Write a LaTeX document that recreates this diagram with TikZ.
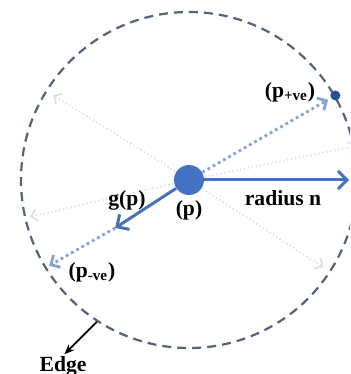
\documentclass[tikz,border=0pt]{standalone}
\usepackage{fontspec}
\setmainfont{Liberation Serif}
\usepackage{tikz}
\usetikzlibrary{arrows.meta,positioning,calc}

\definecolor{ptblue}{RGB}{68,114,196}
\definecolor{lineblue}{RGB}{70,114,182}
\definecolor{dotblue}{RGB}{132,163,210}
\definecolor{faintgray}{RGB}{212,218,229}
\definecolor{edgegray}{RGB}{85,98,120}
\definecolor{tipblue}{RGB}{40,80,150}

\begin{document}
\begin{tikzpicture}[x=0.5pt,y=0.5pt,
    lbl/.style={font=\bfseries\fontsize{10.8}{12}\selectfont,inner sep=0pt},
    solidarrow/.style={lineblue,line width=1.5pt,-{Straight Barb[length=4.5pt,width=9pt]}},
    dotline/.style={dotblue,line width=1.4pt,dash pattern=on 1.4pt off 1.6pt},
    dotarrow/.style={dotline,-{Straight Barb[length=3.5pt,width=7pt]}},
    faintline/.style={faintgray,line width=0.7pt,dash pattern=on 0.7pt off 1.3pt,-{Straight Barb[length=3pt,width=6pt]}},
    edgearrow/.style={black,line width=0.9pt,-{Stealth[length=5pt,width=4pt]}}]
  \clip (-189,-194) rectangle (161,180); % 画像の範囲
  \draw[edgegray,line width=1.1pt,dash pattern=on 4.5pt off 3pt] (0,0) circle (168); % 半径nの境界円

  % 端の点と座標
  \coordinate (f1) at (148:160);
  \coordinate (f2) at (193:163);
  \coordinate (f3) at (11.5:170);
  \coordinate (f4) at (-33:160);
  \coordinate (gtip) at (213:88);
  \coordinate (pneg) at (211.5:164);
  \coordinate (rend) at (160,0);
  \coordinate (ebase) at (237:169);
  \node[circle,fill=tipblue,minimum size=5pt,inner sep=0pt] (ppos) at (30:169) {};

  \draw[faintline] (0,0) -- (f1); % 他の方向（薄い点線）
  \draw[faintline] (0,0) -- (f2);
  \draw[faintline] (0,0) -- (f3);
  \draw[faintline] (0,0) -- (f4);

  \node[circle,fill=ptblue,minimum size=15pt,inner sep=0pt] (p) at (0,0) {}; % 中心の画素p
  \draw[dotarrow,shorten >=1.5pt] (p) -- (ppos); % 勾配の正の方向
  \draw[dotarrow] (gtip) -- (pneg); % 勾配の負の方向
  \draw[solidarrow] (p) -- (gtip); % 勾配ベクトルg(p)
  \draw[solidarrow] (p) -- (rend); % 半径n

  \node[lbl] (glbl) at (-62,-20) {g(p)};
  \node[lbl,below=2.5pt of p] (plbl) {(p)};
  \node[lbl] (rlbl) at (94,-18) {radius n};
  \node[lbl] (poslbl) at (101,88) {(p\textsubscript{+ve})};
  \node[lbl] (neglbl) at (-97,-92) {(p\textsubscript{-ve})};
  \node[lbl] (edgelbl) at (-126,-186) {Edge};
  \draw[edgearrow,shorten >=1pt] (ebase) -- (edgelbl.north); % 境界を指す矢印
\end{tikzpicture}
\end{document}
